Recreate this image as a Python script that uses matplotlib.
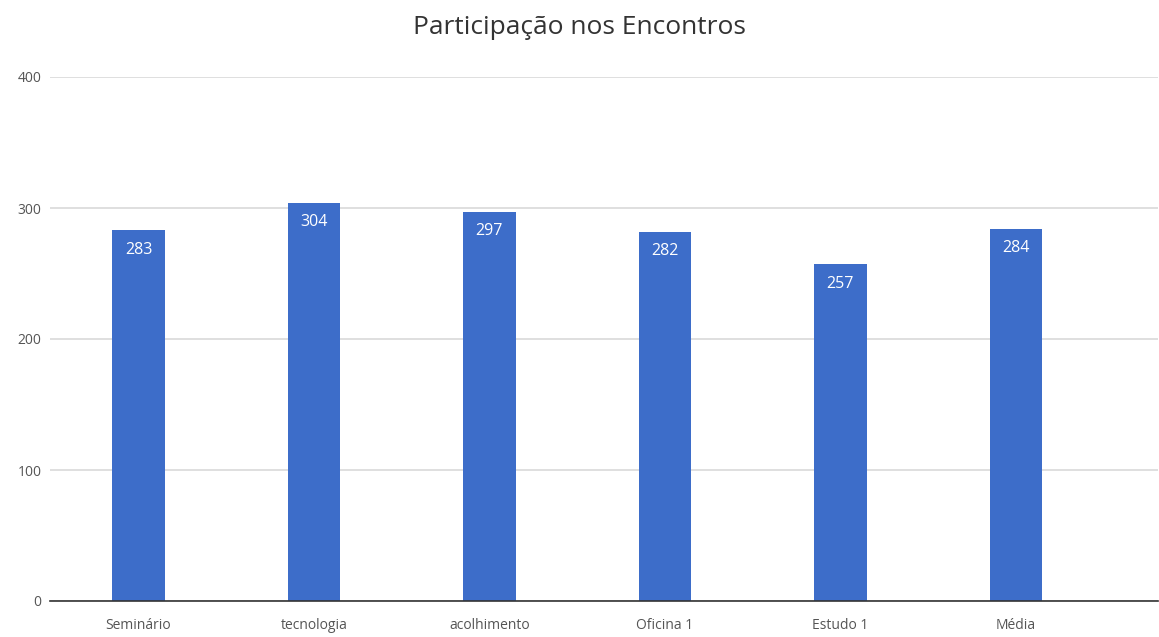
import matplotlib
matplotlib.use("Agg")
import matplotlib.pyplot as plt

categories = ["Seminário", "tecnologia", "acolhimento", "Oficina 1", "Estudo 1", "Média"]
values = [283, 304, 297, 282, 257, 284]
yticks = [0, 100, 200, 300, 400]

plt.rcParams['font.family'] = ['Open Sans', 'DejaVu Sans']

W, H = 1159, 637
fig = plt.figure(figsize=(W / 100, H / 100), dpi=100)
ax = fig.add_axes([50 / W, 36 / H, (1158 - 50) / W, (560 - 36) / H])

bar_color = "#3d6dc9"
x = list(range(len(categories)))
bars = ax.bar(x, values, width=0.30, color=bar_color, zorder=3)

for xi, v in zip(x, values):
    ax.annotate(str(v), (xi, v), xytext=(0, -14), textcoords="offset points",
                ha="center", va="center", color="white", fontsize=11.5, zorder=4)

ax.set_xlim(-0.504, 5.81)
ax.set_ylim(0, 400)
ax.set_yticks(yticks)
ax.set_yticklabels([str(t) for t in yticks], fontsize=10, color="#555555")
ax.set_xticks(x)
ax.set_xticklabels(categories, fontsize=10, color="#555555")
ax.tick_params(axis="both", length=0)
ax.tick_params(axis="x", pad=12)
ax.tick_params(axis="y", pad=6)

ax.grid(axis="y", color="#d9d9d9", linewidth=1.2, zorder=0)
for s in ["top", "right", "left"]:
    ax.spines[s].set_visible(False)
ax.spines["bottom"].set_color("#333333")
ax.spines["bottom"].set_linewidth(1.2)
ax.spines["bottom"].set_zorder(5)

fig.text(0.5, 1 - 34 / H, "Participação nos Encontros", ha="center", va="baseline",
         fontsize=19, color="#333333")

fig.savefig("out.png", dpi=100, facecolor="white")
